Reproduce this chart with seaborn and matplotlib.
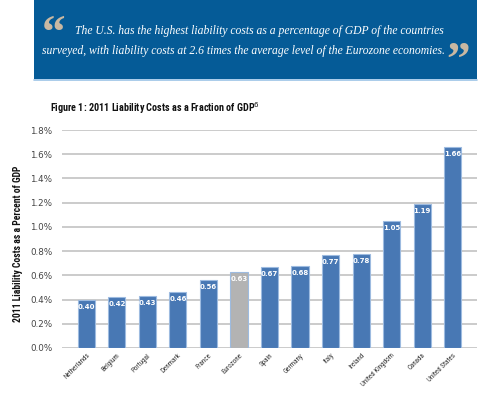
import matplotlib.pyplot as plt
import matplotlib.patches as mpatches
import numpy as np
import pandas as pd
import seaborn as sns
from matplotlib.ticker import FuncFormatter

# --- data ---
countries = [
    "Netherlands", "Belgium", "Portugal", "Denmark", "France", "Eurozone",
    "Spain", "Germany", "Italy", "Ireland", "United Kingdom", "Canada",
    "United States",
]
liability_pct = [0.40, 0.42, 0.43, 0.46, 0.56, 0.63, 0.67, 0.68, 0.77, 0.78, 1.05, 1.19, 1.66]
y_ticks = [0.0, 0.2, 0.4, 0.6, 0.8, 1.0, 1.2, 1.4, 1.6, 1.8]

df = pd.DataFrame({"Country": countries, "Cost": liability_pct})

blue = "#4878B4"
grey = "#B3B3B3"
colors = [grey if c == "Eurozone" else blue for c in countries]

sns.set_theme(style="white")
plt.rcParams["font.family"] = ["DejaVu Sans"]
narrow = ["Roboto Condensed", "Roboto", "DejaVu Sans"]

fig = plt.figure(figsize=(5.0, 3.99), dpi=100)

# --- quote banner ---
banner = mpatches.Rectangle((0.068, 0.802), 0.886, 0.198, transform=fig.transFigure,
                            facecolor="#055B97", edgecolor="none", zorder=0)
fig.patches.append(banner)
fig.add_artist(plt.Line2D([0.068, 0.954], [0.800, 0.800], transform=fig.transFigure,
                          color="#9CC3E6", lw=1.2))
quote_font = dict(color="#C9B8A2", fontsize=34, fontweight="bold",
                  family="Liberation Serif", ha="left", va="top")
fig.text(0.084, 0.962, "\u201c", **quote_font)
fig.text(0.892, 0.895, "\u201d", **quote_font)
line_font = dict(color="white", fontsize=8.4, style="italic",
                 family="Liberation Serif", va="center", ha="left")
fig.text(0.150, 0.922, "The U.S. has the highest liability costs as a percentage of GDP of the countries",
         **line_font)
fig.text(0.083, 0.872, "surveyed, with liability costs at 2.6 times the average level of the Eurozone economies.",
         **line_font)

# --- title ---
fig.text(0.100, 0.729, "Figure 1: 2011 Liability Costs as a Fraction of GDP$^{6}$",
         fontsize=7.3, fontweight="bold", family=narrow, color="#111111",
         va="center", ha="left")

# --- bar chart ---
ax = fig.add_axes([0.124, 0.128, 0.830, 0.546])
sns.barplot(data=df, x="Country", y="Cost", hue="Country", palette=colors, saturation=1,
            legend=False, width=0.56, edgecolor="#9DBBE0", linewidth=0.8, ax=ax, zorder=3)

for i, v in enumerate(liability_pct):
    ax.text(i, v - 0.035, f"{v:.2f}", color="white", fontsize=5, fontweight="bold",
            ha="center", va="top", zorder=4)

ax.set_ylim(0, 1.8)
ax.set_yticks(y_ticks)
ax.yaxis.set_major_formatter(FuncFormatter(lambda v, _: f"{v:.1f}%"))
ax.set_xlim(-0.8, 12.8)
ax.grid(axis="y", color="#BDBDBD", linewidth=1.1, zorder=0)
ax.set_axisbelow(True)
for s in ax.spines.values():
    s.set_visible(False)

ax.tick_params(axis="y", labelsize=6.3, colors="#444444", length=0, pad=7)
ax.tick_params(axis="x", length=0, pad=3)
for lbl in ax.get_xticklabels():
    lbl.set_fontfamily(narrow)
    lbl.set_fontsize(5.0)
    lbl.set_color("#333333")
    lbl.set_rotation(45)
    lbl.set_ha("right")
    lbl.set_rotation_mode("anchor")

ax.set_xlabel("")
ax.set_ylabel("2011 Liability Costs as a Percent of GDP", fontsize=6.9, fontweight="bold",
              family=narrow, color="#111111")
ax.yaxis.set_label_coords(-0.094, 0.48)

fig.savefig("out.png", dpi=100)
